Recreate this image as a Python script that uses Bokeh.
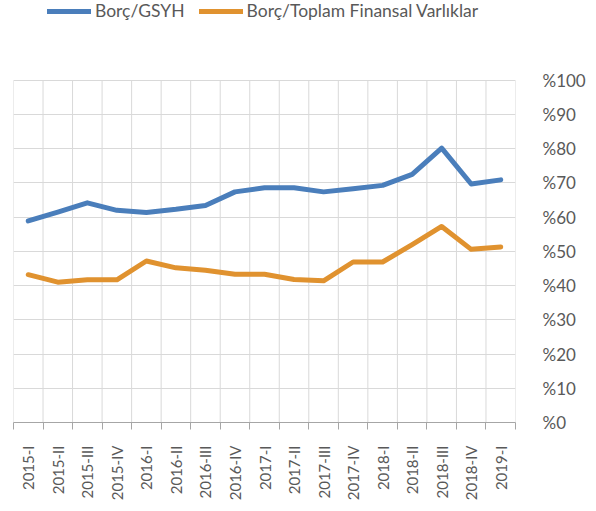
import math
from bokeh.plotting import figure
from bokeh.models import FixedTicker, Range1d, Legend, LegendItem
from bokeh.embed import file_html
from bokeh.resources import INLINE

quarters = ["2015-I", "2015-II", "2015-III", "2015-IV",
            "2016-I", "2016-II", "2016-III", "2016-IV",
            "2017-I", "2017-II", "2017-III", "2017-IV",
            "2018-I", "2018-II", "2018-III", "2018-IV", "2019-I"]
borc_gsyh = [58.9, 61.5, 64.2, 62.0, 61.4, 62.3, 63.4, 67.4, 68.6,
             68.6, 67.4, 68.3, 69.3, 72.5, 80.2, 69.7, 70.9]
borc_toplam_fv = [43.2, 41.0, 41.7, 41.7, 47.2, 45.2, 44.5, 43.3, 43.3,
                  41.8, 41.4, 46.9, 46.9, 52.0, 57.3, 50.6, 51.3]
y_ticks = list(range(0, 101, 10))
series_names = ["Borç/GSYH", "Borç/Toplam Finansal Varlıklar"]

BLUE = "#4a7ebb"
ORANGE = "#e0922f"
TEXT = "#595959"
GRID = "#d9d9d9"
FONT = "Lato"

W, H = 588, 503
BORDER_BOTTOM = 80
PLOT_PX = 343  # pixels spanned by 0..100 on the y axis
FRAME_H = H - BORDER_BOTTOM
Y_MAX = y_ticks[-1]
Y_TOP = Y_MAX * FRAME_H / PLOT_PX  # extra room above 100 for the legend

n = len(quarters)
x = list(range(n))
bounds = [i - 0.5 for i in range(n + 1)]

p = figure(width=W, height=H, output_backend="svg", toolbar_location=None,
           x_range=Range1d(-0.5, n - 0.5), y_range=Range1d(0, Y_TOP),
           y_axis_location="right",
           min_border_left=13, min_border_right=73,
           min_border_top=0, min_border_bottom=BORDER_BOTTOM)
p.outline_line_color = None

# vertical grid lines at category boundaries, limited to 0..100
p.segment(x0=bounds, y0=[y_ticks[0]] * len(bounds), x1=bounds,
          y1=[Y_MAX] * len(bounds), line_color=GRID, line_width=1,
          level="underlay")

r1 = p.line(x, borc_gsyh, line_color=BLUE, line_width=5,
            line_cap="round", line_join="round")
r2 = p.line(x, borc_toplam_fv, line_color=ORANGE, line_width=5,
            line_cap="round", line_join="round")

# x axis: labels at category centers, tick marks at boundaries
xt = FixedTicker(ticks=x, minor_ticks=bounds)
xa = p.xaxis[0]
xa.ticker = xt
xa.major_label_overrides = {i: q for i, q in enumerate(quarters)}
xa.major_label_orientation = math.pi / 2
xa.major_tick_line_color = None
xa.major_tick_out = 0
xa.major_tick_in = 0
xa.minor_tick_out = 7
xa.minor_tick_in = 0
xa.minor_tick_line_color = "#a6a6a6"
xa.axis_line_color = "#a6a6a6"
xa.major_label_standoff = 16
xa.major_label_text_font = FONT
xa.major_label_text_font_size = "15px"
xa.major_label_text_color = TEXT

p.xgrid.grid_line_color = None

yt = FixedTicker(ticks=y_ticks, minor_ticks=[])
ya = p.yaxis[0]
ya.ticker = yt
ya.major_label_overrides = {v: "%" + str(v) for v in y_ticks}
ya.axis_line_color = None
ya.major_tick_line_color = None
ya.minor_tick_line_color = None
ya.major_label_standoff = 21
ya.major_label_text_font = FONT
ya.major_label_text_font_size = "17px"
ya.major_label_text_color = TEXT

p.ygrid.ticker = yt
p.ygrid.grid_line_color = GRID

legend = Legend(items=[LegendItem(label=series_names[0], renderers=[r1]),
                       LegendItem(label=series_names[1], renderers=[r2])],
                orientation="horizontal", location=(34, FRAME_H - 22),
                padding=0, margin=0, spacing=14,
                glyph_width=44, glyph_height=20, label_standoff=4,
                border_line_color=None, background_fill_alpha=0,
                label_text_font=FONT, label_text_font_size="17.5px",
                label_text_color=TEXT)
p.add_layout(legend)

open("out.html", "w").write(file_html(p, INLINE))
